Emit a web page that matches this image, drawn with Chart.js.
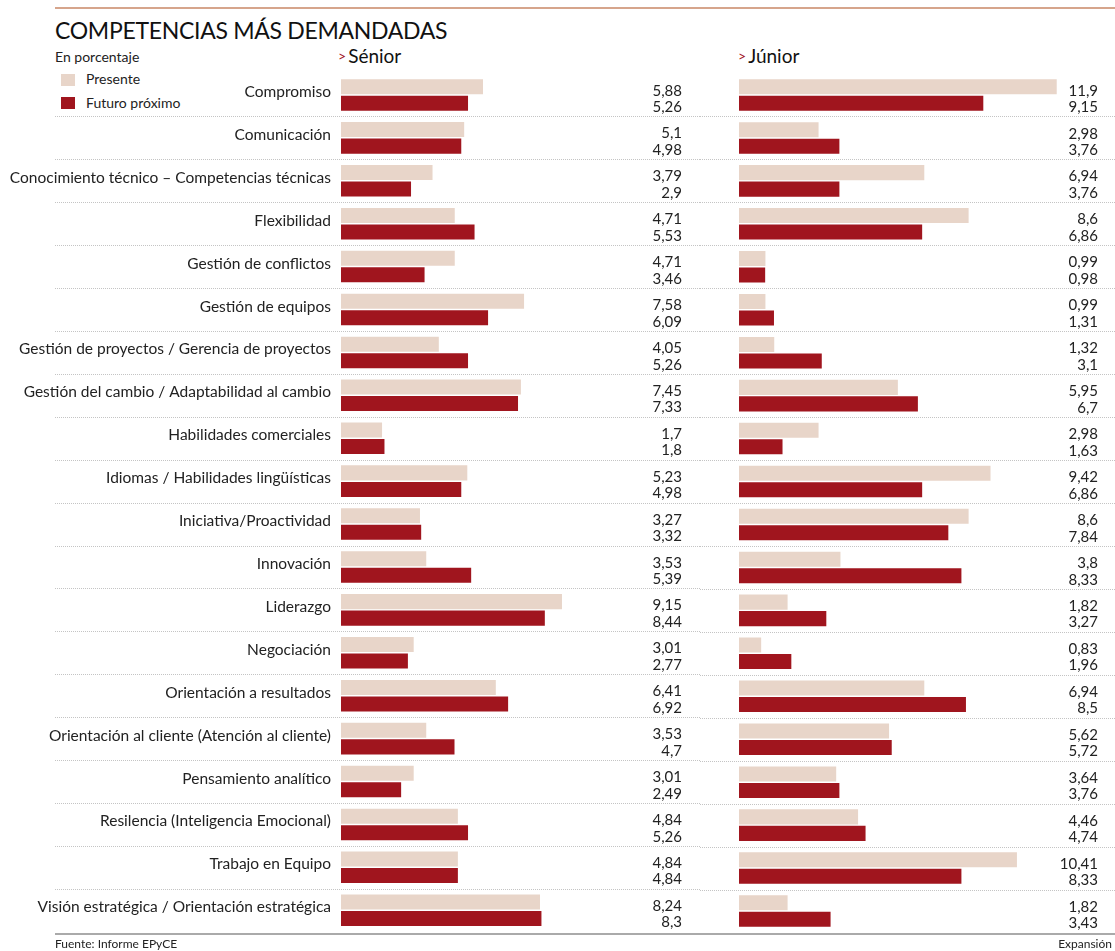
<!DOCTYPE html>
<html lang="es">
<head>
<meta charset="UTF-8">
<title>Competencias más demandadas</title>
<script src="https://cdn.jsdelivr.net/npm/chart.js"></script>
<style>
  body { margin: 0; background: #fff; font-family: Lato, "Open Sans", sans-serif; color: #222; }
  #wrap { position: relative; width: 1115px; height: 951px; overflow: hidden; }
  .abs { position: absolute; white-space: nowrap; }
  #topline { left: 55px; top: 7px; width: 1060px; height: 2px; background: #d6a58c; }
  #title { left: 55px; top: 16px; font-size: 23px; letter-spacing: -0.3px; color: #111; }
  #sub { left: 55px; top: 48px; font-size: 14px; }
  .sw { width: 14px; height: 12px; }
  .lg { font-size: 14px; }
  .panel { font-size: 19px; color: #111; }
  .panel b { color: #a0151e; font-weight: normal; font-size: 14px; position: relative; top: -2px; margin-right: 2px; }
  .foot { top: 936px; font-size: 12px; }
  #bottomline { left: 55px; top: 933px; width: 1060px; height: 2px; background: #aaa; }
  canvas { position: absolute; top: 0; }
</style>
</head>
<body>
<div id="wrap">
  <div class="abs" id="topline"></div>
  <div class="abs" id="title">COMPETENCIAS MÁS DEMANDADAS</div>
  <div class="abs" id="sub">En porcentaje</div>
  <div class="abs sw" style="left:61px;top:74px;background:#e8d5c9"></div>
  <div class="abs lg" style="left:86px;top:70px">Presente</div>
  <div class="abs sw" style="left:61px;top:97px;background:#a0151e"></div>
  <div class="abs lg" style="left:86px;top:94px">Futuro próximo</div>
  <div class="abs panel" style="left:338px;top:44px"><b>&gt;</b>Sénior</div>
  <div class="abs panel" style="left:738px;top:44px"><b>&gt;</b>Júnior</div>
  <canvas id="seniorChart" width="700" height="951" style="left:0"></canvas>
  <canvas id="juniorChart" width="415" height="951" style="left:700px"></canvas>
  <div class="abs" id="bottomline"></div>
  <div class="abs foot" style="left:55px">Fuente: Informe EPyCE</div>
  <div class="abs foot" style="right:3px">Expansión</div>
</div>
<script>
  const categorias = [
    'Compromiso', 'Comunicación', 'Conocimiento técnico – Competencias técnicas', 'Flexibilidad',
    'Gestión de conflictos', 'Gestión de equipos', 'Gestión de proyectos / Gerencia de proyectos',
    'Gestión del cambio / Adaptabilidad al cambio', 'Habilidades comerciales',
    'Idiomas / Habilidades lingüísticas', 'Iniciativa/Proactividad', 'Innovación', 'Liderazgo',
    'Negociación', 'Orientación a resultados', 'Orientación al cliente (Atención al cliente)',
    'Pensamiento analítico', 'Resilencia (Inteligencia Emocional)', 'Trabajo en Equipo',
    'Visión estratégica / Orientación estratégica'
  ];
  const seniorPresente = [5.88, 5.1, 3.79, 4.71, 4.71, 7.58, 4.05, 7.45, 1.7, 5.23, 3.27, 3.53, 9.15, 3.01, 6.41, 3.53, 3.01, 4.84, 4.84, 8.24];
  const seniorFuturo = [5.26, 4.98, 2.9, 5.53, 3.46, 6.09, 5.26, 7.33, 1.8, 4.98, 3.32, 5.39, 8.44, 2.77, 6.92, 4.7, 2.49, 5.26, 4.84, 8.3];
  const juniorPresente = [11.9, 2.98, 6.94, 8.6, 0.99, 0.99, 1.32, 5.95, 2.98, 9.42, 8.6, 3.8, 1.82, 0.83, 6.94, 5.62, 3.64, 4.46, 10.41, 1.82];
  const juniorFuturo = [9.15, 3.76, 3.76, 6.86, 0.98, 1.31, 3.1, 6.7, 1.63, 6.86, 7.84, 8.33, 3.27, 1.96, 8.5, 5.72, 3.76, 4.74, 8.33, 3.43];

  const colorPresente = '#e8d5c9';
  const colorFuturo = '#a0151e';
  const fontFam = 'Lato, "Open Sans", sans-serif';

  const fmt = v => String(v).replace('.', ',');

  // separadores punteados y valores a la derecha de cada panel
  function panelPlugin(valueX) {
    return {
      id: 'panelExtras',
      beforeDatasetsDraw(chart) {
        const ctx = chart.ctx;
        const y = chart.scales.y;
        ctx.save();
        ctx.strokeStyle = '#c4c4c4';
        ctx.lineWidth = 1;
        ctx.setLineDash([1, 1]);
        for (let i = 1; i < categorias.length; i++) {
          const yy = Math.round((y.getPixelForValue(i - 1) + y.getPixelForValue(i)) / 2) + 0.5;
          ctx.beginPath();
          ctx.moveTo(chart.canvas.id === 'seniorChart' ? 55 : 0, yy);
          ctx.lineTo(chart.width, yy);
          ctx.stroke();
        }
        ctx.restore();
      },
      afterDatasetsDraw(chart) {
        const ctx = chart.ctx;
        ctx.save();
        ctx.fillStyle = '#222';
        ctx.font = '15px ' + fontFam;
        ctx.textAlign = 'right';
        ctx.textBaseline = 'middle';
        chart.data.datasets.forEach((ds, di) => {
          chart.getDatasetMeta(di).data.forEach((bar, i) => {
            ctx.fillText(fmt(ds.data[i]), valueX, bar.y + 4);
          });
        });
        ctx.restore();
      }
    };
  }

  function makeChart(id, presente, futuro, max, padding, showLabels, valueX) {
    return new Chart(document.getElementById(id), {
      type: 'bar',
      data: {
        labels: categorias,
        datasets: [
          { label: 'Presente', data: presente, backgroundColor: colorPresente },
          { label: 'Futuro próximo', data: futuro, backgroundColor: colorFuturo }
        ]
      },
      options: {
        indexAxis: 'y',
        responsive: false,
        animation: false,
        events: [],
        datasets: { bar: { categoryPercentage: 0.77, barPercentage: 0.91 } },
        layout: { padding: padding },
        plugins: { legend: { display: false }, tooltip: { enabled: false } },
        scales: {
          x: { display: false, min: 0, max: max },
          y: {
            display: showLabels,
            grid: { display: false, drawTicks: false },
            border: { display: false },
            ticks: {
              color: '#222',
              padding: 10,
              labelOffset: -3,
              autoSkip: false,
              font: { family: fontFam, size: 15.5 }
            },
            afterFit(scale) { if (showLabels) scale.width = 341; }
          }
        }
      },
      plugins: [panelPlugin(valueX)]
    });
  }

  // Sénior: 0 en x=341, ~24.15 px por punto
  makeChart('seniorChart', seniorPresente, seniorFuturo, 14,
    { left: 0, right: 700 - 341 - 14 * 24.15, top: 73.5, bottom: 951 - 932.5 }, true, 682);
  // Júnior: 0 en x=739, ~26.7 px por punto
  makeChart('juniorChart', juniorPresente, juniorFuturo, 13,
    { left: 39, right: 415 - 39 - 13 * 26.7, top: 73.5, bottom: 951 - 932.5 }, false, 398);
</script>
</body>
</html>
